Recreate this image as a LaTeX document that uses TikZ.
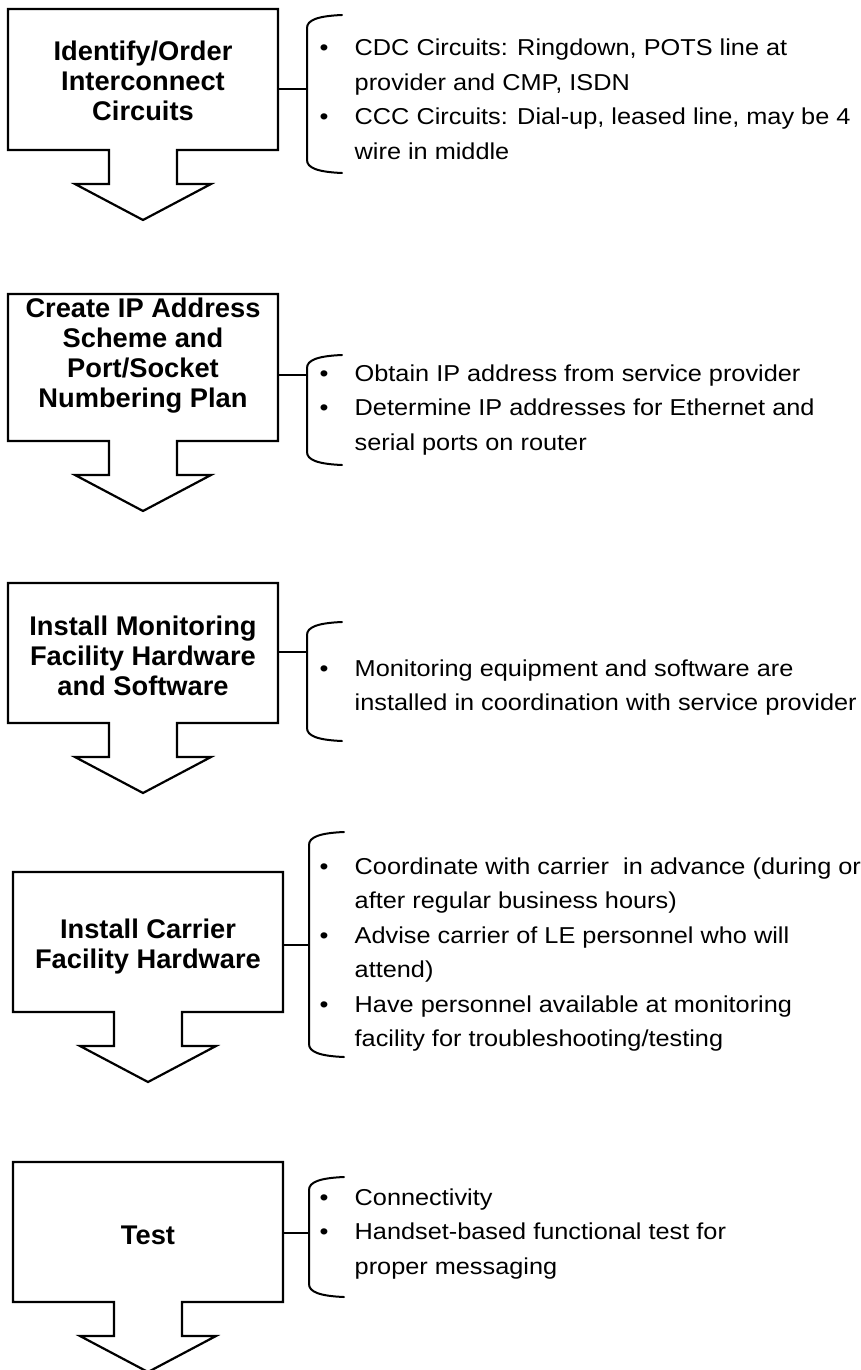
\documentclass[tikz,border=0pt]{standalone}
\usepackage{fontspec}
\setmainfont{Liberation Sans}[FakeStretch=1.1]
\newfontfamily\titlefont{Liberation Sans}[FakeStretch=1.01]
\usetikzlibrary{calc}

% bullet and hanging indent for the note lists
\newcommand\bul{\makebox[36pt][l]{\hspace{1pt}\textbullet}}
\newcommand\ind{\hspace*{36pt}}
\newcommand\notelist[1]{\begin{minipage}[t]{560pt}\raggedright\fontsize{23}{34.5}\selectfont #1\end{minipage}}

% outline of a step: box with a downward block arrow under it
\newcommand\drawshell[1]{%
  \draw[shell] (#1.north west) -- (#1.north east) -- (#1.south east)
    -- ($(#1.south)+(34,0)$) -- ++(0,34) -- ++(34,0)
    -- ($(#1.south)+(0,70)$) -- ($(#1.south)+(-68,34)$) -- ++(34,0)
    -- ($(#1.south)+(-34,0)$) -- (#1.south west) -- cycle;}

% left curly bracket: x, top y, bottom y
\newcommand\drawbrace[3]{%
  \draw[brace] (#1+35,#2) .. controls (#1+11,#2+1) and (#1,#2+5) .. (#1,#2+13)
    -- (#1,#3-13) .. controls (#1,#3-5) and (#1+11,#3-1) .. (#1+35,#3);}

\begin{document}
\begin{tikzpicture}[x=1pt,y=-1pt,
  frame/.style={rectangle, minimum width=270pt, inner sep=0pt, outer sep=0pt},
  shell/.style={draw=black, line width=2.2pt, line join=miter},
  brace/.style={draw=black, line width=2pt, line cap=round},
  link/.style={draw=black, line width=1.8pt},
  lbl/.style={font=\titlefont\fontsize{27}{30}\selectfont\bfseries, align=center, inner sep=0pt},
  notes/.style={anchor=base west, inner sep=0pt}]

\useasboundingbox[fill=white] (0,0) rectangle (861,1370);

% ---- step frames ----
\node[frame, minimum height=141pt] (f1) at (143,79.5) {};
\node[frame, minimum height=147pt] (f2) at (143,367.5) {};
\node[frame, minimum height=140pt] (f3) at (143,653) {};
\node[frame, minimum height=140pt] (f4) at (148,942) {};
\node[frame, minimum height=140pt] (f5) at (148,1232) {};
\foreach \f in {f1,f2,f3,f4,f5} {\drawshell{\f}}

% ---- step titles ----
\node[lbl] (t1) at (143,81) {Identify/Order\\Interconnect\\Circuits};
\node[lbl] (t2) at (143,356) {Create IP Address\\Scheme and\\Port/Socket\\Numbering Plan};
\node[lbl] (t3) at (143,656) {Install Monitoring\\Facility Hardware\\and Software};
\node[lbl] (t4) at (148,947) {Install Carrier\\Facility Hardware};
\node[lbl] (t5) at (148,1235) {Test};

% ---- brackets and their links ----
\drawbrace{307}{15}{173}
\drawbrace{307}{355}{465}
\drawbrace{307}{622}{741}
\drawbrace{309}{832}{1057}
\drawbrace{309}{1177}{1297}

\coordinate (k1) at (307,89);
\coordinate (k2) at (307,375);
\coordinate (k3) at (307,652);
\coordinate (k4) at (309,945);
\coordinate (k5) at (309,1233);
\draw[link] (f1.east |- k1) -- (k1);
\draw[link] (f2.east |- k2) -- (k2);
\draw[link] (f3.east |- k3) -- (k3);
\draw[link] (f4.east |- k4) -- (k4);
\draw[link] (f5.east |- k5) -- (k5);

% ---- notes ----
\node[notes] (n1) at (318.5,56) {\notelist{\bul CDC Circuits: Ringdown, POTS line at\\
  \ind provider and CMP, ISDN\\
  \bul CCC Circuits: Dial-up, leased line, may be 4\\
  \ind wire in middle}};
\node[notes] (n2) at (318.5,381) {\notelist{\bul Obtain IP address from service provider\\
  \bul Determine IP addresses for Ethernet and\\
  \ind serial ports on router}};
\node[notes] (n3) at (318.5,676) {\notelist{\bul Monitoring equipment and software are\\
  \ind installed in coordination with service provider}};
\node[notes] (n4) at (318.5,874) {\notelist{\bul Coordinate with carrier\ \ in advance (during or\\
  \ind after regular business hours)\\
  \bul Advise carrier of LE personnel who will\\
  \ind attend)\\
  \bul Have personnel available at monitoring\\
  \ind facility for troubleshooting/testing}};
\node[notes] (n5) at (318.5,1205) {\notelist{\bul Connectivity\\
  \bul Handset-based functional test for\\
  \ind proper messaging}};
\end{tikzpicture}
\end{document}
